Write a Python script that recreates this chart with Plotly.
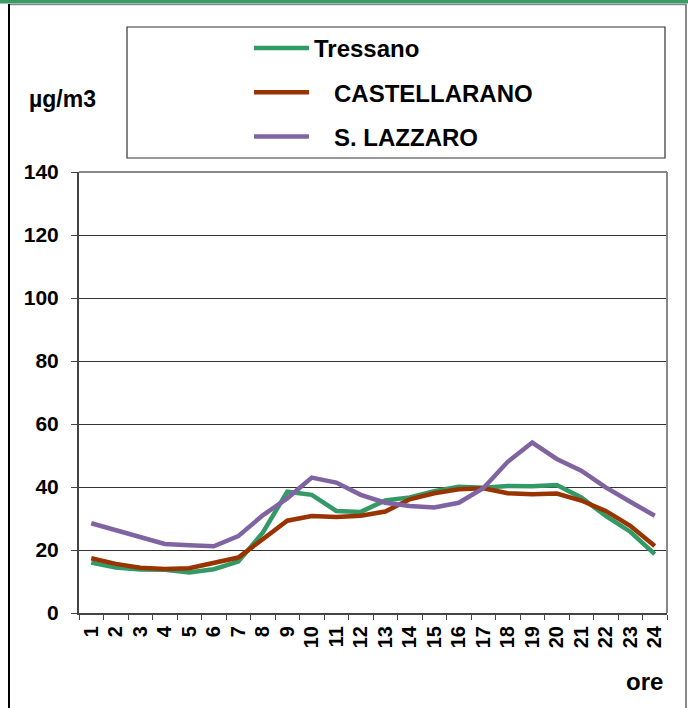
import plotly.graph_objects as go

hours = [str(h) for h in range(1, 25)]
series_names = ["Tressano", "CASTELLARANO", "S. LAZZARO"]
tressano = [16.0, 14.4, 13.8, 13.7, 12.9, 13.9, 16.3, 25.5, 38.5, 37.5, 32.4, 32.1,
            35.7, 36.7, 38.7, 40.1, 39.8, 40.3, 40.2, 40.6, 36.7, 30.8, 25.8, 18.7]
castellarano = [17.4, 15.6, 14.4, 14.0, 14.2, 15.8, 17.6, 23.4, 29.3, 30.8, 30.5, 30.9,
                32.2, 36.1, 38.0, 39.3, 39.6, 38.0, 37.7, 37.9, 35.7, 32.4, 27.7, 21.3]
s_lazzaro = [28.5, 26.3, 24.4, 21.9, 21.5, 21.2, 24.4, 31.0, 36.4, 43.0, 41.4, 37.5,
             35.0, 34.0, 33.5, 35.0, 39.6, 48.0, 54.1, 48.9, 45.2, 39.9, 35.3, 30.9]
colors = ["#339966", "#993300", "#8064A2"]
y_ticks = [0, 20, 40, 60, 80, 100, 120, 140]

W, H = 688, 708
L, R, T, B = 79, 667, 172, 613
FONT = "Liberation Sans, Arial, sans-serif"


def px(x):
    return (x - L) / (R - L)


def py(y):
    return (B - y) / (B - T)


fig = go.Figure()
pads = ["", "\u00a0\u00a0\u00a0", "\u00a0\u00a0\u00a0"]
for name, vals, col, pad in zip(series_names, [tressano, castellarano, s_lazzaro], colors, pads):
    fig.add_trace(go.Scatter(
        x=hours, y=vals, mode="lines", name=pad + name, legendgroup=name,
        line=dict(color=col, width=4.5),
    ))

shapes = [
    # outer frame
    dict(type="rect", xref="paper", yref="paper", x0=px(0), x1=px(W), y0=py(0), y1=py(3.5),
         fillcolor="#3a9a6a", line=dict(width=0), layer="above"),
    dict(type="line", xref="paper", yref="paper", x0=px(9), x1=px(686), y0=py(4.5), y1=py(4.5),
         line=dict(color="#888888", width=1.5)),
    dict(type="rect", xref="paper", yref="paper", x0=px(8), x1=px(10), y0=py(4), y1=py(H + 10),
         fillcolor="#000000", line=dict(width=0)),
    dict(type="rect", xref="paper", yref="paper", x0=px(685), x1=px(687), y0=py(4), y1=py(H + 10),
         fillcolor="#888888", line=dict(width=0)),
    # plot area top/right border
    dict(type="line", xref="paper", yref="paper", x0=0, x1=1, y0=1, y1=1,
         line=dict(color="#888888", width=2)),
    dict(type="line", xref="paper", yref="paper", x0=1, x1=1, y0=0, y1=1,
         line=dict(color="#888888", width=2)),
    # legend box
    dict(type="rect", xref="paper", yref="paper", x0=px(127), x1=px(665), y0=py(158), y1=py(27),
         line=dict(color="#333333", width=1.2), fillcolor="rgba(0,0,0,0)"),
]

fig.update_layout(
    width=W, height=H,
    margin=dict(l=L, r=W - R, t=T, b=H - B),
    paper_bgcolor="white", plot_bgcolor="white",
    font=dict(family=FONT, color="black"),
    showlegend=True,
    legend=dict(
        x=px(249), y=py(26), xanchor="left", yanchor="top",
        font=dict(family=FONT, size=24, weight="bold", color="black"),
        itemwidth=55,
        tracegroupgap=10, bgcolor="rgba(0,0,0,0)", borderwidth=0,
    ),
    xaxis=dict(
        type="category", categoryorder="array", categoryarray=hours,
        tickangle=-90, ticks="outside", ticklen=5, tickcolor="#444444",
        tickson="boundaries", showline=True, linecolor="#444444", linewidth=2,
        showgrid=False, tickfont=dict(family=FONT, size=20, weight="bold"),
        ticklabelstandoff=3,
        range=[-0.5, 23.5],
    ),
    yaxis=dict(
        range=[0, 140], tickvals=y_ticks, ticks="outside", ticklen=6, tickcolor="#444444",
        showline=True, linecolor="#444444", linewidth=2,
        showgrid=True, gridcolor="#333333", gridwidth=1, zeroline=False,
        tickfont=dict(family=FONT, size=21, weight="bold"),
        ticklabelstandoff=8,
    ),
    shapes=shapes,
    annotations=[
        dict(text="µg/m3", xref="paper", yref="paper", x=px(62), y=py(99),
             showarrow=False, xanchor="center", yanchor="middle",
             font=dict(family=FONT, size=23, weight="bold")),
        dict(text="ore", xref="paper", yref="paper", x=px(644), y=py(681),
             showarrow=False, xanchor="center", yanchor="middle",
             font=dict(family=FONT, size=24, weight="bold")),
    ],
)

fig.write_html("out.html", config={"displayModeBar": False},
               post_script="document.body.style.margin='0';document.body.style.padding='0';")
